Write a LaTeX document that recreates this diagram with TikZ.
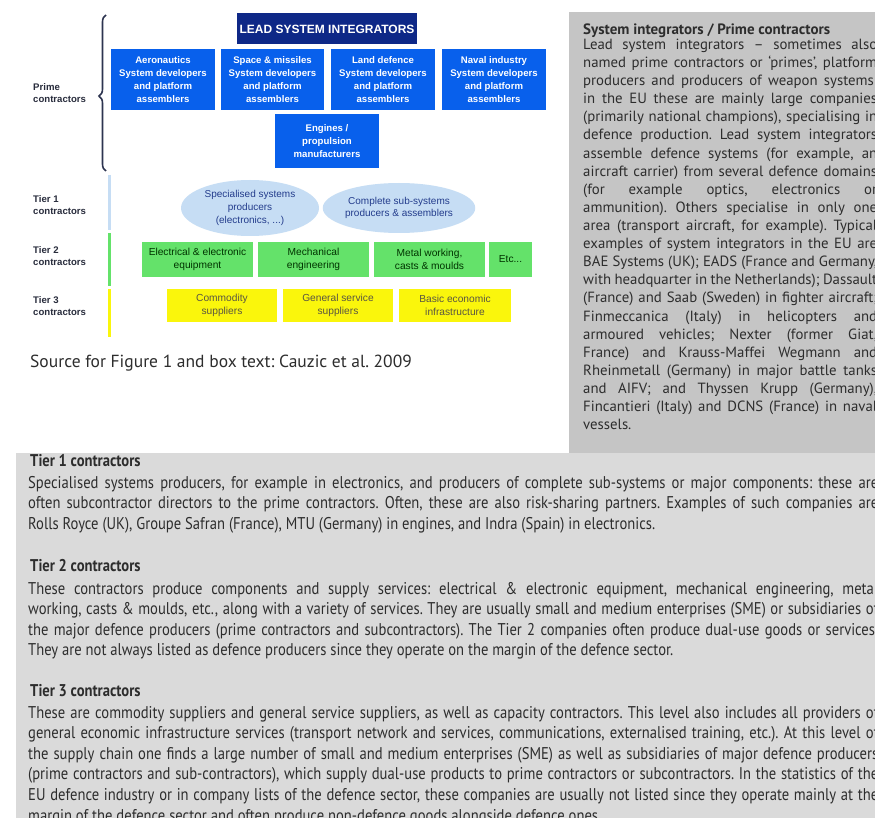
\documentclass[tikz,border=0pt]{standalone}
\usepackage{fontspec}
\setmainfont{PT Sans}
\newfontfamily\diag{Liberation Sans}
\newfontfamily\cond[FakeStretch=0.86]{PT Sans}
\usetikzlibrary{shapes.geometric,decorations.pathreplacing}
\frenchspacing

\definecolor{navy}{RGB}{14,40,135}
\definecolor{pblue}{RGB}{8,96,236}
\definecolor{lblue}{RGB}{198,221,244}
\definecolor{eltext}{RGB}{35,60,140}
\definecolor{tgreen}{RGB}{100,226,106}
\definecolor{tyellow}{RGB}{250,246,12}
\definecolor{bracec}{RGB}{45,52,80}
\definecolor{labc}{RGB}{40,44,60}
\definecolor{rgray}{RGB}{197,197,197}
\definecolor{bgray}{RGB}{218,218,218}
\definecolor{bodytext}{RGB}{45,45,45}

\begin{document}
\begin{tikzpicture}[x=1pt,y=-1pt,
  lsibox/.style={fill=navy,text=white,inner sep=0pt,
    font=\diag\bfseries\fontsize{12}{14}\selectfont,
    minimum width=180pt,minimum height=31pt},
  primebox/.style={fill=pblue,text=white,inner sep=0pt,align=center,
    font=\diag\bfseries\fontsize{9.6}{13.2}\selectfont,minimum height=61pt},
  tier1ell/.style={ellipse,fill=lblue,text=eltext,inner sep=0pt,align=center,
    font=\diag\fontsize{10}{12.6}\selectfont},
  tier2box/.style={fill=tgreen,text=black!80!green,inner sep=0pt,align=center,
    font=\diag\fontsize{10.2}{12.6}\selectfont,minimum height=35pt},
  tier3box/.style={fill=tyellow,text=black!75!yellow,inner sep=0pt,align=center,
    font=\diag\fontsize{10.2}{12.6}\selectfont,minimum height=33pt},
  tierlab/.style={anchor=west,align=left,text=labc,inner sep=0pt,
    font=\diag\bfseries\fontsize{9.6}{12.5}\selectfont},
  tierbar/.style={line width=3pt},
  rline/.style={anchor=base west,inner sep=0pt,text=bodytext,
    font=\fontsize{14.8}{16}\selectfont},
  bline/.style={anchor=base west,inner sep=0pt,text=bodytext,
    font=\cond\fontsize{17}{19}\selectfont},
  bhead/.style={bline,font=\cond\bfseries\fontsize{17}{19}\selectfont}]

\useasboundingbox (0,0) rectangle (875,818);
\clip (0,0) rectangle (875,818);
\fill[white] (0,0) rectangle (875,818);

% ---- text panels ----
\fill[rgray] (569,12) rectangle (875,453);
\fill[bgray] (16,453) rectangle (875,818);

% ---- prime contractors ----
\node[lsibox] (lsi) at (327,29) {LEAD SYSTEM INTEGRATORS};
\node[primebox,minimum width=104pt] (aero) at (163,79.5)
  {Aeronautics\\System developers\\and platform\\assemblers};
\node[primebox,minimum width=103pt] (space) at (272.5,79.5)
  {Space \& missiles\\System developers\\and platform\\assemblers};
\node[primebox,minimum width=104pt] (land) at (383,79.5)
  {Land defence\\System developers\\and platform\\assemblers};
\node[primebox,minimum width=104pt] (naval) at (494,79.5)
  {Naval industry\\System developers\\and platform\\assemblers};
\node[primebox,minimum width=104pt,minimum height=54pt] (eng) at (327,141)
  {Engines /\\propulsion\\manufacturers};

% ---- tier 1 ----
\node[tier1ell,minimum width=138pt,minimum height=56pt] (spec) at (250,208)
  {Specialised systems\\producers\\(electronics, ...)};
\node[tier1ell,minimum width=135pt,minimum height=50pt] (comp) at (399,208)
  {Complete sub-systems\\producers \& assemblers};

% ---- tier 2 ----
\node[tier2box,minimum width=111pt] (elec) at (197.5,259.5)
  {Electrical \& electronic\\equipment};
\node[tier2box,minimum width=111pt] (mech) at (313.5,259.5)
  {Mechanical\\engineering};
\node[tier2box,minimum width=111pt] (metal) at (429.5,259.5)
  {Metal working,\\casts \& moulds};
\node[tier2box,minimum width=43pt] (etc) at (510.5,259.5) {Etc...};

% ---- tier 3 ----
\node[tier3box,minimum width=110pt] (comm) at (222,305.5)
  {Commodity\\suppliers};
\node[tier3box,minimum width=110pt] (gen) at (338,305.5)
  {General service\\suppliers};
\node[tier3box,minimum width=112pt] (basic) at (455,305.5)
  {Basic economic\\infrastructure};

% ---- tier labels, brace and bars ----
\node[tierlab] (lprime) at (33,93) {Prime\\contractors};
\node[tierlab] (ltier1) at (33,205) {Tier 1\\contractors};
\node[tierlab] (ltier2) at (33,256) {Tier 2\\contractors};
\node[tierlab] (ltier3) at (33,306) {Tier 3\\contractors};

\coordinate (brbot) at (106,171);
\coordinate (brtop) at (106,15);
\draw[bracec,line width=1.6pt,decorate,
  decoration={brace,amplitude=7pt,aspect=0.48}] (brbot) -- (brtop);

\coordinate (b1a) at (109,175); \coordinate (b1b) at (109,230);
\coordinate (b2a) at (109,233); \coordinate (b2b) at (109,286);
\coordinate (b3a) at (109,289); \coordinate (b3b) at (109,337);
\draw[tierbar,lblue] (b1a) -- (b1b);
\draw[tierbar,tgreen] (b2a) -- (b2b);
\draw[tierbar,tyellow] (b3a) -- (b3b);

\node[anchor=base west,inner sep=0pt,text=bodytext,
  font=\fontsize{17.5}{20}\selectfont] (src) at (30,367)
  {Source for Figure 1 and box text: Cauzic et al. 2009};

% ---- side panel: system integrators ----
\node[rline,font=\bfseries\fontsize{15}{16}\selectfont] (rtitle) at (583,34.5)
  {System integrators / Prime contractors};
\foreach \t [count=\i] in {
  {Lead system integrators – sometimes also},
  {named prime contractors or ‘primes’, platform},
  {producers and producers of weapon systems:},
  {in the EU these are mainly large companies},
  {(primarily national champions), specialising in},
  {defence production. Lead system integrators},
  {assemble defence systems (for example, an},
  {aircraft carrier) from several defence domains},
  {(for example optics, electronics or},
  {ammunition). Others specialise in only one},
  {area (transport aircraft, for example). Typical},
  {examples of system integrators in the EU are},
  {BAE Systems (UK); EADS (France and Germany,},
  {with headquarter in the Netherlands); Dassault},
  {(France) and Saab (Sweden) in fighter aircraft;},
  {Finmeccanica (Italy) in helicopters and},
  {armoured vehicles; Nexter (former Giat,},
  {France) and Krauss-Maffei Wegmann and},
  {Rheinmetall (Germany) in major battle tanks},
  {and AIFV; and Thyssen Krupp (Germany),},
  {Fincantieri (Italy) and DCNS (France) in naval}}
  \node[rline] (r\i) at (583,{49.5+18.1*(\i-1)}) {\makebox[294pt][s]{\t}};
\node[rline] (r22) at (583,{49.5+18.1*21}) {vessels.};

% ---- bottom panel: tiers ----
\node[bhead] (h1) at (30,466) {Tier 1 contractors};
\foreach \t [count=\i] in {
  {Specialised systems producers, for example in electronics, and producers of complete sub-systems or major components: these are},
  {often subcontractor directors to the prime contractors. Often, these are also risk-sharing partners. Examples of such companies are}}
  \node[bline] (p1l\i) at (28,{488+20.9*(\i-1)}) {\makebox[850pt][s]{\t}};
\node[bline] (p1l3) at (28,{488+20.9*2})
  {Rolls Royce (UK), Groupe Safran (France), MTU (Germany) in engines, and Indra (Spain) in electronics.};

\node[bhead] (h2) at (30,571) {Tier 2 contractors};
\foreach \t [count=\i] in {
  {These contractors produce components and supply services: electrical \& electronic equipment, mechanical engineering, metal},
  {working, casts \& moulds, etc., along with a variety of services. They are usually small and medium enterprises (SME) or subsidiaries of},
  {the major defence producers (prime contractors and subcontractors). The Tier 2 companies often produce dual-use goods or services.}}
  \node[bline] (p2l\i) at (28,{594+20.5*(\i-1)}) {\makebox[850pt][s]{\t}};
\node[bline] (p2l4) at (28,{594+20.5*3})
  {They are not always listed as defence producers since they operate on the margin of the defence sector.};

\node[bhead] (h3) at (30,696) {Tier 3 contractors};
\foreach \t [count=\i] in {
  {These are commodity suppliers and general service suppliers, as well as capacity contractors. This level also includes all providers of},
  {general economic infrastructure services (transport network and services, communications, externalised training, etc.). At this level of},
  {the supply chain one finds a large number of small and medium enterprises (SME) as well as subsidiaries of major defence producers},
  {(prime contractors and sub-contractors), which supply dual-use products to prime contractors or subcontractors. In the statistics of the},
  {EU defence industry or in company lists of the defence sector, these companies are usually not listed since they operate mainly at the}}
  \node[bline] (p3l\i) at (28,{718+20.6*(\i-1)}) {\makebox[850pt][s]{\t}};
\node[bline] (p3l6) at (28,{718+20.6*5})
  {margin of the defence sector and often produce non-defence goods alongside defence ones.};

\end{tikzpicture}
\end{document}
